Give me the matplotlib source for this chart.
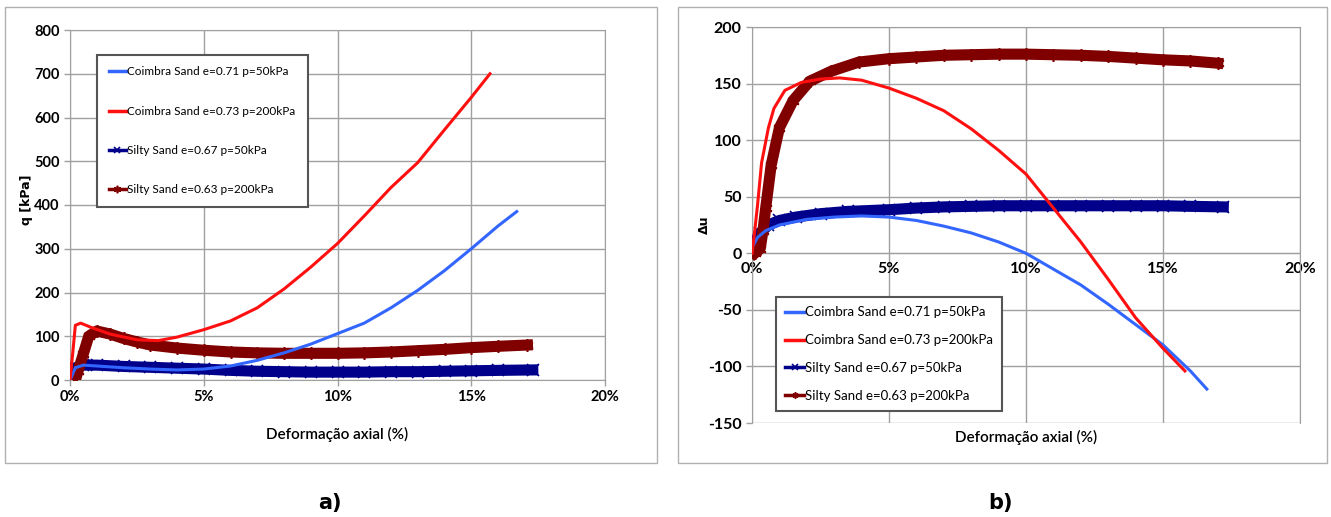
import matplotlib.pyplot as plt
from matplotlib.patches import Rectangle
from matplotlib.ticker import FuncFormatter

plt.rcParams["axes.unicode_minus"] = False

# strain in %, q in kPa (panel a)
coimbra50_x = [0, 0.2, 0.5, 1, 2, 3, 4, 5, 6, 7, 8, 9, 10, 11, 12, 13, 14, 15, 16, 16.7]
coimbra50_q = [0, 28, 34, 32, 28, 25, 23, 25, 32, 45, 62, 82, 106, 130, 165, 205, 250, 300, 352, 385]

coimbra200_x = [0, 0.1, 0.2, 0.4, 0.8, 1.5, 2.5, 3.3, 4, 5, 6, 7, 8, 9, 10, 11, 12, 13, 14, 15, 15.7]
coimbra200_q = [0, 60, 125, 130, 120, 105, 92, 90, 98, 115, 135, 165, 208, 258, 312, 375, 440, 497, 572, 646, 700]

silty50_x = [0, 0.2, 0.5, 1, 2, 3, 4, 5, 6, 7, 8, 9, 10, 11, 12, 13, 14, 15, 16, 17.3]
silty50_q = [10, 28, 34, 34, 31, 29, 27, 25, 22, 20, 19, 18, 18, 18, 19, 19, 20, 21, 22, 23]

silty200_x = [0.2, 0.3, 0.5, 0.7, 1, 1.5, 2, 2.5, 3, 4, 5, 6, 7, 8, 9, 10, 11, 12, 13, 14, 15, 16, 17.1]
silty200_q = [0, 20, 60, 100, 112, 105, 95, 87, 80, 73, 68, 64, 62, 61, 61, 61, 62, 64, 67, 70, 74, 77, 80]

# strain in %, pore pressure change (panel b)
coimbra50_du_x = [0, 0.2, 0.5, 1, 2, 3, 4, 5, 6, 7, 8, 9, 10, 11, 12, 13, 14, 15, 16, 16.6]
coimbra50_du = [5, 14, 20, 25, 30, 32, 33, 32, 29, 24, 18, 10, 0, -14, -28, -45, -63, -81, -104, -120]

coimbra200_du_x = [0, 0.1, 0.2, 0.35, 0.6, 0.8, 1.2, 1.8, 2.5, 3.2, 4, 5, 6, 7, 8, 9, 10, 11, 12, 13, 14, 15, 15.8]
coimbra200_du = [0, 20, 42, 80, 111, 128, 144, 151, 154, 155, 153, 146, 137, 126, 110, 91, 70, 40, 10, -23, -57, -84, -104]

silty50_du_x = [0, 0.1, 0.3, 0.6, 1, 1.6, 2.5, 3.5, 5, 6, 7, 8, 9, 10, 11, 12, 13, 14, 15, 16, 17.2]
silty50_du = [5, 10, 18, 25, 29, 32, 35, 37, 38.5, 40, 41, 41.5, 42, 42, 42, 42, 42, 42, 42, 41.5, 41]

silty200_du_x = [0.1, 0.3, 0.4, 0.5, 0.7, 1, 1.5, 2.1, 2.9, 3.9, 5, 6, 7, 8, 9, 10, 11, 12, 13, 14, 15, 16, 17]
silty200_du = [0, 4, 20, 40, 78, 111, 135, 152, 161, 169, 172, 173.5, 175, 175.5, 176, 176, 175.5, 175, 174, 172.5, 171, 170, 168]

labels = ["Coimbra Sand e=0.71 p=50kPa", "Coimbra Sand e=0.73 p=200kPa",
          "Silty Sand e=0.67 p=50kPa", "Silty Sand e=0.63 p=200kPa"]

BLUE = "#3366ff"
RED = "#ff1010"
NAVY = "#00008b"
MAROON = "#800000"
GRID = "#a0a0a0"
FONT = "Lato"

fig = plt.figure(figsize=(13.31, 5.17), dpi=100)

# light frames around each panel
for x0, x1 in [(5, 657), (678, 1327)]:
    fig.patches.append(Rectangle((x0 / 1331, 1 - 463 / 517), (x1 - x0) / 1331, (463 - 7) / 517,
                                 transform=fig.transFigure, fill=False, edgecolor="#b0b0b0", lw=1))

pct = FuncFormatter(lambda v, p: f"{v:.0f}%")


def style(ax, size):
    ax.set_xlim(0, 20)
    ax.set_xticks([0, 5, 10, 15, 20])
    ax.xaxis.set_major_formatter(pct)
    ax.grid(True, color=GRID, lw=1)
    ax.set_axisbelow(True)
    for s in ax.spines.values():
        s.set_color(GRID)
    ax.tick_params(colors=GRID, length=4, width=1, labelcolor="black")
    for t in ax.get_xticklabels() + ax.get_yticklabels():
        t.set_family(FONT)
        t.set_fontsize(size)
        t.set_fontweight("bold")


def draw(ax, series):
    (x1, y1), (x2, y2), (x3, y3), (x4, y4) = series
    ax.plot(x1, y1, color=BLUE, lw=2.2, label=labels[0], zorder=4)
    ax.plot(x2, y2, color=RED, lw=2.2, label=labels[1], zorder=4)
    ax.plot(x3, y3, color=NAVY, lw=8, marker="x", ms=8, mew=1.2, label=labels[2], zorder=3)
    ax.plot(x4, y4, color=MAROON, lw=8, marker=(6, 2, 0), ms=9, mew=1.2, label=labels[3], zorder=3)


def finish_legend(leg):
    leg.get_frame().set_linewidth(1.5)
    for ln in leg.get_lines():
        ln.set_linewidth(2.5)


# panel a
ax1 = fig.add_axes([70 / 1331, 1 - 380 / 517, 535 / 1331, 350 / 517])
draw(ax1, [(coimbra50_x, coimbra50_q), (coimbra200_x, coimbra200_q),
           (silty50_x, silty50_q), (silty200_x, silty200_q)])
ax1.set_ylim(0, 800)
ax1.set_yticks(range(0, 801, 100))
style(ax1, 10.5)
ax1.set_xlabel("Deformação axial (%)", family=FONT, fontsize=11, fontweight="semibold", labelpad=16)
ax1.set_ylabel("q [kPa]", family="DejaVu Sans", fontsize=9, fontweight="bold")
ax1.yaxis.set_label_coords(-0.07, 0.514)
h, l = ax1.get_legend_handles_labels()
leg1 = ax1.legend(h, l, loc="upper left", bbox_to_anchor=(0.05, 0.93), prop={"family": FONT, "size": 8.5},
                  labelspacing=2.4, handlelength=1.5, handletextpad=0.1, borderpad=1.0,
                  borderaxespad=0, fancybox=False, framealpha=1, edgecolor="#555555", markerscale=0.6)
finish_legend(leg1)

# panel b
ax2 = fig.add_axes([752 / 1331, 1 - 423 / 517, 548 / 1331, 396 / 517])
draw(ax2, [(coimbra50_du_x, coimbra50_du), (coimbra200_du_x, coimbra200_du),
           (silty50_du_x, silty50_du), (silty200_du_x, silty200_du)])
ax2.set_ylim(-150, 200)
ax2.set_yticks(range(-150, 201, 50))
ax2.spines["bottom"].set_position(("data", 0))
style(ax2, 11.5)
ax2.tick_params(axis="x", length=0, pad=6)
ax2.set_xlabel("Deformação axial (%)", family=FONT, fontsize=11, fontweight="semibold")
ax2.xaxis.set_label_coords(0.5, -0.018)
ax2.set_ylabel("Δu", family="DejaVu Sans", fontsize=9, fontweight="bold")
ax2.yaxis.set_label_coords(-0.075, 0.5)
h, l = ax2.get_legend_handles_labels()
leg2 = ax2.legend(h, l, loc="lower left", bbox_to_anchor=(0.044, 0.03), prop={"family": FONT, "size": 9.5},
                  labelspacing=1.2, handlelength=1.4, handletextpad=0.1, borderpad=0.7,
                  borderaxespad=0, fancybox=False, framealpha=1, edgecolor="#555555", markerscale=0.5)
finish_legend(leg2)

fig.text(330 / 1331, 1 - 503 / 517, "a)", fontsize=15, fontweight="bold", ha="center", va="center")
fig.text(1000 / 1331, 1 - 503 / 517, "b)", fontsize=15, fontweight="bold", ha="center", va="center")

fig.savefig("out.png", dpi=100)
